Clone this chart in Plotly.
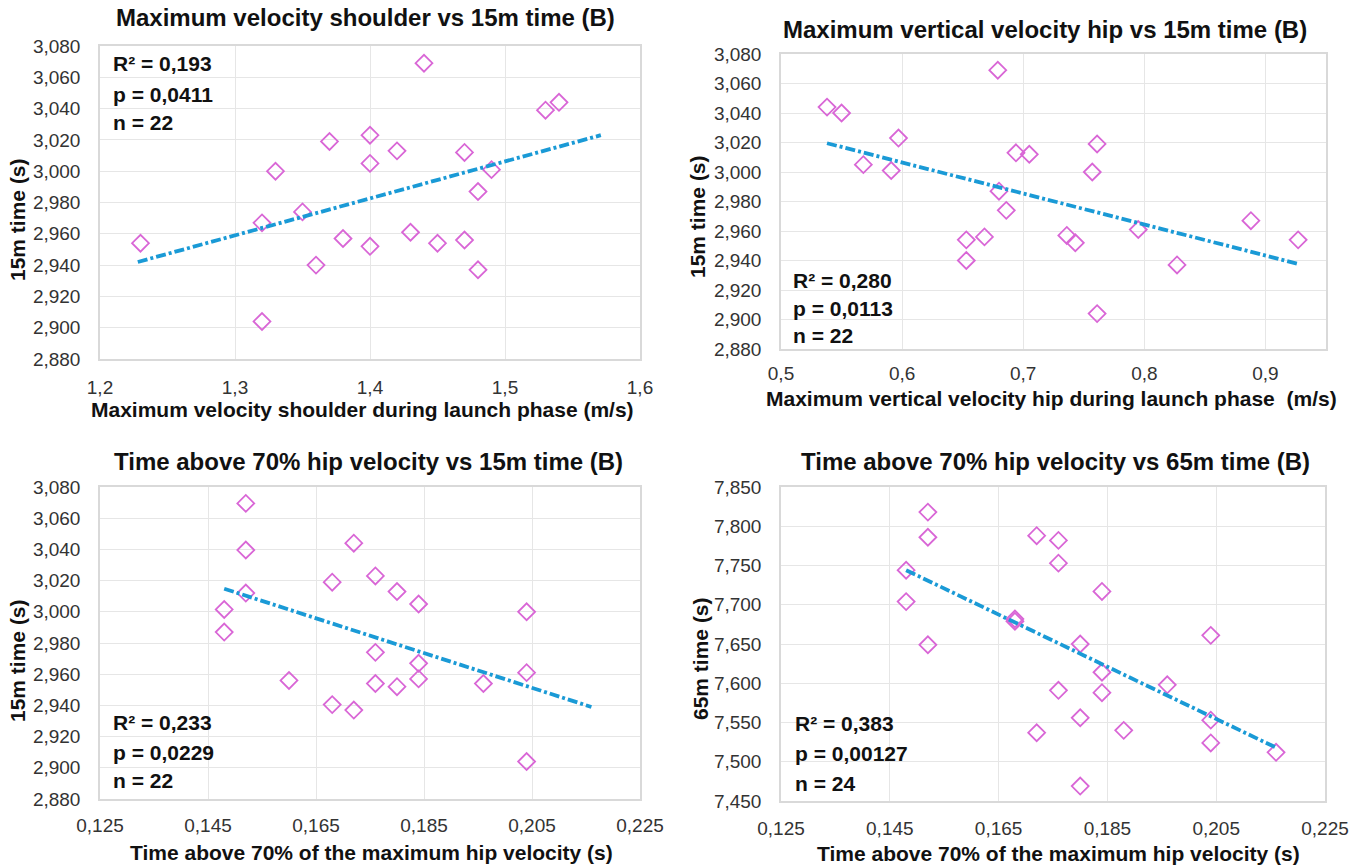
import plotly.graph_objects as go

W, H = 1355, 865

# ---------------- data ----------------
# Panel 1: Maximum velocity shoulder vs 15m time
p1_x = [1.23, 1.32, 1.32, 1.33, 1.35, 1.36, 1.37, 1.38, 1.40, 1.40, 1.40,
        1.42, 1.43, 1.44, 1.45, 1.47, 1.47, 1.48, 1.48, 1.49, 1.53, 1.54]
p1_y = [2.954, 2.967, 2.904, 3.000, 2.974, 2.940, 3.019, 2.957, 3.023, 3.005, 2.952,
        3.013, 2.961, 3.069, 2.954, 3.012, 2.956, 2.987, 2.937, 3.001, 3.039, 3.044]
p1_trend_x = [1.228, 1.571]
p1_trend_y = [2.942, 3.023]

# Panel 2: Maximum vertical velocity hip vs 15m time
p2_x = [0.538, 0.550, 0.568, 0.591, 0.597, 0.653, 0.653, 0.668, 0.679, 0.680, 0.686,
        0.694, 0.705, 0.736, 0.743, 0.757, 0.761, 0.761, 0.795, 0.827, 0.888, 0.927]
p2_y = [3.044, 3.040, 3.005, 3.001, 3.023, 2.954, 2.940, 2.956, 3.069, 2.987, 2.974,
        3.013, 3.012, 2.957, 2.952, 3.000, 3.019, 2.904, 2.961, 2.937, 2.967, 2.954]
p2_trend_x = [0.538, 0.928]
p2_trend_y = [3.0195, 2.9375]

# Panel 3: Time above 70% hip velocity vs 15m time
p3_x = [0.148, 0.148, 0.152, 0.152, 0.152, 0.160, 0.168, 0.168, 0.172, 0.172, 0.176,
        0.176, 0.176, 0.180, 0.180, 0.184, 0.184, 0.184, 0.196, 0.204, 0.204, 0.204]
p3_y = [3.0015, 2.987, 3.0695, 3.0396, 3.012, 2.956, 3.019, 2.9405, 3.044, 2.937, 3.023,
        2.974, 2.954, 3.013, 2.952, 3.005, 2.967, 2.957, 2.954, 3.000, 2.961, 2.904]
p3_trend_x = [0.148, 0.216]
p3_trend_y = [3.0148, 2.939]

# Panel 4: Time above 70% hip velocity vs 65m time
p4_x = [0.148, 0.148, 0.152, 0.152, 0.152, 0.168, 0.168, 0.172, 0.172, 0.176, 0.176, 0.176,
        0.180, 0.180, 0.180, 0.184, 0.184, 0.184, 0.188, 0.196, 0.204, 0.204, 0.204, 0.216]
p4_y = [7.744, 7.704, 7.818, 7.786, 7.649, 7.682, 7.679, 7.788, 7.537, 7.782, 7.753, 7.591,
        7.650, 7.556, 7.469, 7.717, 7.614, 7.588, 7.540, 7.598, 7.661, 7.553, 7.524, 7.512]
p4_trend_x = [0.148, 0.216]
p4_trend_y = [7.744, 7.518]

# tick labels
t15_vals = [2.88, 2.90, 2.92, 2.94, 2.96, 2.98, 3.00, 3.02, 3.04, 3.06, 3.08]
t15_text = ["2,880", "2,900", "2,920", "2,940", "2,960", "2,980", "3,000", "3,020", "3,040", "3,060", "3,080"]
t65_vals = [7.45, 7.50, 7.55, 7.60, 7.65, 7.70, 7.75, 7.80, 7.85]
t65_text = ["7,450", "7,500", "7,550", "7,600", "7,650", "7,700", "7,750", "7,800", "7,850"]
tx1_vals = [1.2, 1.3, 1.4, 1.5, 1.6]
tx1_text = ["1,2", "1,3", "1,4", "1,5", "1,6"]
tx2_vals = [0.5, 0.6, 0.7, 0.8, 0.9]
tx2_text = ["0,5", "0,6", "0,7", "0,8", "0,9"]
tx3_vals = [0.125, 0.145, 0.165, 0.185, 0.205, 0.225]
tx3_text = ["0,125", "0,145", "0,165", "0,185", "0,205", "0,225"]

titles = ["Maximum velocity shoulder vs 15m time (B)",
          "Maximum vertical velocity hip vs 15m time (B)",
          "Time above 70% hip velocity vs 15m time (B)",
          "Time above 70% hip velocity vs 65m time (B)"]
xtitles = ["Maximum velocity shoulder during launch phase (m/s)",
           "Maximum vertical velocity hip during launch phase  (m/s)",
           "Time above 70% of the maximum hip velocity (s)",
           "Time above 70% of the maximum hip velocity (s)"]
ytitles = ["15m time (s)", "15m time (s)", "15m time (s)", "65m time (s)"]
stats = [["R² = 0,193", "p = 0,0411", "n = 22"],
         ["R² = 0,280", "p = 0,0113", "n = 22"],
         ["R² = 0,233", "p = 0,0229", "n = 22"],
         ["R² = 0,383", "p = 0,00127", "n = 24"]]

# ---------------- layout geometry (pixels) ----------------
plots = [  # left, right, top, bottom
    (100, 640, 46, 359),
    (781, 1326, 54, 349),
    (100, 640, 487, 799),
    (781, 1325, 487, 801),
]
xranges = [[1.2, 1.6], [0.5, 0.95], [0.125, 0.225], [0.125, 0.225]]
yranges = [[2.88, 3.08], [2.88, 3.08], [2.88, 3.08], [7.45, 7.85]]
xticks = [(tx1_vals, tx1_text), (tx2_vals, tx2_text), (tx3_vals, tx3_text), (tx3_vals, tx3_text)]
yticks = [(t15_vals, t15_text), (t15_vals, t15_text), (t15_vals, t15_text), (t65_vals, t65_text)]
title_pos = [(365, 18), (1045, 30), (369, 461), (1055, 461)]
xtitle_pos = [(362, 409), (1051, 398), (371, 852), (1058, 853)]
ytitle_pos = [(17, 220), (698, 217), (17, 661), (700, 659)]
stat_pos = [(111, [64, 94, 123]), (791, [280, 308, 335]),
            (111, [722, 752, 780]), (793, [723, 753, 783])]
xlab_standoff = [10, 6, 8, 9]

data = [(p1_x, p1_y, p1_trend_x, p1_trend_y),
        (p2_x, p2_y, p2_trend_x, p2_trend_y),
        (p3_x, p3_y, p3_trend_x, p3_trend_y),
        (p4_x, p4_y, p4_trend_x, p4_trend_y)]

TICKFONT = dict(family="Liberation Sans Narrow, Liberation Sans, Arial, sans-serif", size=19, color="#333333")
BOLD = "Liberation Sans, Arial, sans-serif"
MARKER_COLOR = "#d966d6"
TREND_COLOR = "#1a9ad6"
GRID = "#e6e6e6"

def px(x):
    return x / W

def py(y):
    return 1 - y / H

fig = go.Figure()
layout = dict(width=W, height=H, margin=dict(l=0, r=0, t=0, b=0),
              paper_bgcolor="white", plot_bgcolor="white", showlegend=False,
              annotations=[])

for i in range(4):
    n = "" if i == 0 else str(i + 1)
    xa, ya = "x" + n, "y" + n
    xs, ys, tx, ty = data[i]
    fig.add_trace(go.Scatter(x=xs, y=ys, mode="markers", xaxis=xa, yaxis=ya,
                             marker=dict(symbol="diamond-open", size=13, color=MARKER_COLOR,
                                         line=dict(width=1.8, color=MARKER_COLOR))))
    fig.add_trace(go.Scatter(x=tx, y=ty, mode="lines", xaxis=xa, yaxis=ya,
                             line=dict(color=TREND_COLOR, width=3.8, dash="10px,3px,3px,3px")))
    l, r, t, b = plots[i]
    layout["xaxis" + n] = dict(domain=[px(l), px(r)], range=xranges[i], anchor=ya,
                               tickvals=xticks[i][0], ticktext=xticks[i][1],
                               showgrid=True, gridcolor=GRID, gridwidth=1.3,
                               showline=True, linecolor="#d9d9d9", linewidth=1.5, mirror=True,
                               zeroline=False, ticks="", tickfont=TICKFONT,
                               ticklabelstandoff=xlab_standoff[i], automargin=False, fixedrange=True)
    layout["yaxis" + n] = dict(domain=[py(b), py(t)], range=yranges[i], anchor=xa,
                               tickvals=yticks[i][0], ticktext=yticks[i][1],
                               showgrid=True, gridcolor=GRID, gridwidth=1.3,
                               showline=True, linecolor="#d9d9d9", linewidth=1.5, mirror=True,
                               zeroline=False, ticks="", tickfont=TICKFONT,
                               ticklabelstandoff=14, automargin=False, fixedrange=True)
    tx_, ty_ = title_pos[i]
    layout["annotations"].append(dict(text="<b>%s</b>" % titles[i], x=px(tx_), y=py(ty_),
                                      xref="paper", yref="paper", showarrow=False,
                                      xanchor="center", yanchor="middle",
                                      font=dict(family=BOLD, size=24, color="#111111")))
    ax_, ay_ = xtitle_pos[i]
    layout["annotations"].append(dict(text="<b>%s</b>" % xtitles[i], x=px(ax_), y=py(ay_),
                                      xref="paper", yref="paper", showarrow=False,
                                      xanchor="center", yanchor="middle",
                                      font=dict(family=BOLD, size=21, color="#111111")))
    yx_, yy_ = ytitle_pos[i]
    layout["annotations"].append(dict(text="<b>%s</b>" % ytitles[i], x=px(yx_), y=py(yy_),
                                      xref="paper", yref="paper", showarrow=False, textangle=-90,
                                      xanchor="center", yanchor="middle",
                                      font=dict(family=BOLD, size=21, color="#111111")))
    sx, sys_ = stat_pos[i]
    for txt, syy in zip(stats[i], sys_):
        layout["annotations"].append(dict(text="<b>%s</b>" % txt, x=px(sx), y=py(syy),
                                          xref="paper", yref="paper", showarrow=False,
                                          xanchor="left", yanchor="middle",
                                          font=dict(family=BOLD, size=21, color="#111111")))

fig.update_layout(**layout)
fig.write_html("out.html", include_plotlyjs=True, config={"displayModeBar": False},
               post_script="document.body.style.margin='0';document.body.style.overflow='hidden';")
